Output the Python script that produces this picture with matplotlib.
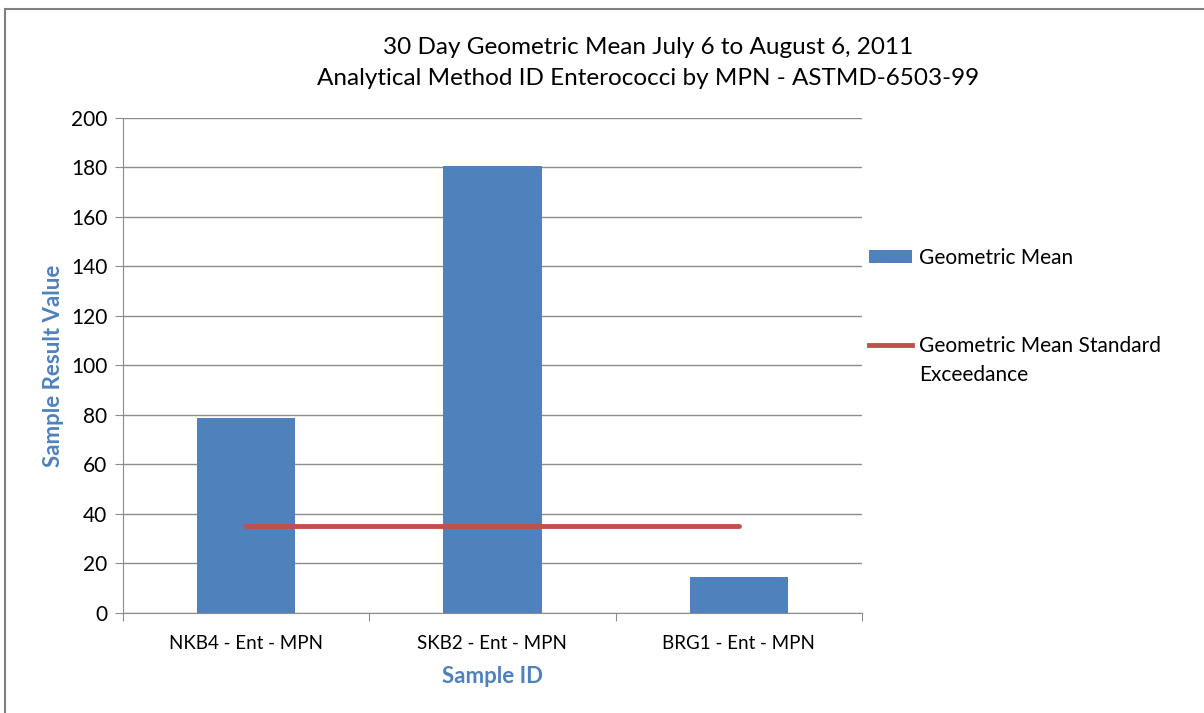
import matplotlib.pyplot as plt
from matplotlib.patches import Rectangle, Patch
from matplotlib.lines import Line2D

# data
categories = ["NKB4 - Ent - MPN", "SKB2 - Ent - MPN", "BRG1 - Ent - MPN"]
geo_mean = [78.8, 180.6, 14.7]
standard = [35, 35, 35]
y_ticks = [0, 20, 40, 60, 80, 100, 120, 140, 160, 180, 200]

plt.rcParams['font.family'] = ['Lato', 'DejaVu Sans']

bar_color = "#4F81BD"
line_color = "#C0504D"
axis_blue = "#4F81BD"
grid_color = "#8C8C8C"

fig = plt.figure(figsize=(12.04, 7.13), dpi=100)
ax = fig.add_axes([0.102, 0.1403, 0.614, 0.6942])

x = list(range(len(categories)))
ax.bar(x, geo_mean, width=0.4, color=bar_color, zorder=2)
ax.plot(x, standard, color=line_color, linewidth=3.5, solid_capstyle="round", zorder=3)

ax.set_xlim(-0.5, 2.5)
ax.set_ylim(0, 200)
ax.set_yticks(y_ticks)
ax.tick_params(axis="y", length=6, color=grid_color, labelsize=15, pad=5)
ax.yaxis.grid(True, color=grid_color, linewidth=1, zorder=0)
ax.set_axisbelow(True)

# category labels at centres, tick marks at boundaries
ax.set_xticks([-0.5, 0.5, 1.5, 2.5])
ax.set_xticklabels([])
ax.tick_params(axis="x", length=6, color=grid_color)
ax.set_xticks(x, minor=True)
ax.set_xticklabels(categories, minor=True)
ax.tick_params(axis="x", which="minor", length=0, labelsize=13.5, pad=16)

for side in ["top", "right"]:
    ax.spines[side].set_visible(False)
for side in ["left", "bottom"]:
    ax.spines[side].set_color(grid_color)

ax.set_ylabel("Sample Result Value", color=axis_blue, fontweight="bold", fontsize=16, labelpad=5)
ax.set_xlabel("Sample ID", color=axis_blue, fontweight="bold", fontsize=16, labelpad=10)

fig.text(0.538, 0.912, "30 Day Geometric Mean July 6 to August 6, 2011\nAnalytical Method ID Enterococci by MPN - ASTMD-6503-99",
         ha="center", va="center", fontsize=17.5, linespacing=1.6)

handles = [Patch(facecolor=bar_color), Line2D([0], [0], color=line_color, linewidth=3.5)]
labels = ["Geometric Mean", "Geometric Mean Standard"]
leg = fig.legend(handles, labels, loc="upper left", bbox_to_anchor=(0.722, 0.652), frameon=False,
                 fontsize=15, labelspacing=3.25, handlelength=2.07, handleheight=0.6,
                 handletextpad=0.3, borderpad=0, borderaxespad=0)

# wrapped second line of the legend label, placed under its first line
fig.canvas.draw()
bb = leg.get_texts()[1].get_window_extent().transformed(fig.transFigure.inverted())
fig.text(bb.x0, bb.y0 - 0.013, "Exceedance", fontsize=15, ha="left", va="top")

# outer chart frame (only left/top edges visible in the crop)
fig.patches.append(Rectangle((0.0045, -0.1), 1.2, 1.088, transform=fig.transFigure,
                             fill=False, edgecolor="#7F7F7F", linewidth=1.5))

fig.savefig("out.png", dpi=100)
